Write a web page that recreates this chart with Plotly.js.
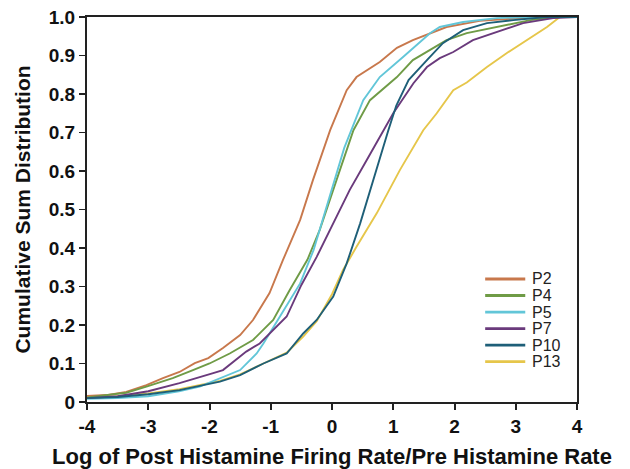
<!DOCTYPE html>
<html>
<head>
<meta charset="utf-8">
<script src="https://cdn.plot.ly/plotly-3.0.1.min.js"></script>
<style>html,body{margin:0;padding:0;background:#fff;}#chart{width:630px;height:469px;}</style>
</head>
<body>
<div id="chart"></div>
<script>
// Series names
const seriesNames = ["P2", "P4", "P5", "P7", "P10", "P13"];

// Values (x = log ratio, y = cumulative fraction)
const p2X = [-4, -3.68, -3.36, -3.03, -2.76, -2.49, -2.24, -2.02, -1.78, -1.5, -1.29, -1.02, -0.8, -0.52, -0.31, -0.03, 0.24, 0.4, 0.78, 1.06, 1.32, 1.65, 1.87, 2.41, 3.0, 3.7, 4];
const p2Y = [0.016, 0.018, 0.026, 0.044, 0.062, 0.078, 0.101, 0.114, 0.14, 0.174, 0.213, 0.283, 0.369, 0.473, 0.577, 0.706, 0.81, 0.844, 0.883, 0.92, 0.94, 0.96, 0.974, 0.99, 0.996, 1.0, 1.0];

const p4X = [-4, -3.36, -3.03, -2.6, -2.27, -2.0, -1.67, -1.29, -0.96, -0.69, -0.4, -0.2, 0.075, 0.35, 0.62, 1.06, 1.32, 1.6, 1.87, 2.2, 2.69, 3.24, 3.7, 4];
const p4Y = [0.012, 0.024, 0.04, 0.062, 0.083, 0.1, 0.126, 0.161, 0.213, 0.291, 0.37, 0.447, 0.577, 0.706, 0.784, 0.844, 0.888, 0.914, 0.94, 0.958, 0.974, 0.992, 1.0, 1.0];

const p5X = [-4, -3.5, -3.0, -2.5, -2.16, -1.83, -1.5, -1.23, -1.12, -0.85, -0.52, -0.3, -0.05, 0.2, 0.51, 0.78, 1.16, 1.6, 1.76, 2.14, 2.69, 3.2, 3.7, 4];
const p5Y = [0.008, 0.01, 0.015, 0.028, 0.04, 0.062, 0.083, 0.126, 0.152, 0.222, 0.308, 0.395, 0.53, 0.66, 0.784, 0.844, 0.896, 0.958, 0.974, 0.987, 0.997, 1.0, 1.0, 1.0];

const p7X = [-4, -3.5, -3.0, -2.49, -1.94, -1.78, -1.4, -1.18, -0.74, -0.5, -0.25, 0.02, 0.29, 0.57, 0.84, 1.0, 1.33, 1.55, 1.76, 1.98, 2.3, 2.69, 3.12, 3.61, 4];
const p7Y = [0.01, 0.015, 0.028, 0.049, 0.075, 0.083, 0.131, 0.152, 0.222, 0.304, 0.377, 0.464, 0.551, 0.629, 0.706, 0.75, 0.828, 0.87, 0.893, 0.909, 0.94, 0.961, 0.984, 0.997, 1.0];

const p10X = [-4, -3.5, -3.0, -2.49, -1.83, -1.5, -1.12, -0.74, -0.47, -0.25, 0.02, 0.24, 0.46, 0.67, 0.92, 1.05, 1.25, 1.55, 1.81, 2.14, 2.53, 2.96, 3.5, 4];
const p10Y = [0.01, 0.013, 0.02, 0.031, 0.053, 0.07, 0.1, 0.126, 0.178, 0.213, 0.274, 0.36, 0.464, 0.577, 0.706, 0.77, 0.836, 0.888, 0.932, 0.966, 0.984, 0.992, 1.0, 1.0];

const p13X = [-4, -3.5, -3.0, -2.49, -1.83, -1.5, -1.12, -0.74, -0.47, -0.25, 0.0, 0.18, 0.4, 0.73, 1.11, 1.49, 1.71, 1.98, 2.2, 2.53, 2.85, 3.18, 3.51, 3.72, 4];
const p13Y = [0.012, 0.015, 0.022, 0.033, 0.055, 0.072, 0.1, 0.128, 0.17, 0.21, 0.28, 0.343, 0.403, 0.49, 0.603, 0.706, 0.75, 0.81, 0.83, 0.87, 0.906, 0.94, 0.974, 1.0, 1.0];

const xTickVals = [-4, -3, -2, -1, 0, 1, 2, 3, 4];
const xTickText = ["-4", "-3", "-2", "-1", "0", "1", "2", "3", "4"];
const yTickVals = [0, 0.1, 0.2, 0.3, 0.4, 0.5, 0.6, 0.7, 0.8, 0.9, 1.0];
const yTickText = ["0", "0.1", "0.2", "0.3", "0.4", "0.5", "0.6", "0.7", "0.8", "0.9", "1.0"];

const colors = ["#c8784c", "#6f9b46", "#62c6d8", "#6a3a7c", "#1e5f78", "#e6c64a"];
const xs = [p2X, p4X, p5X, p7X, p10X, p13X];
const ys = [p2Y, p4Y, p5Y, p7Y, p10Y, p13Y];

// draw order: back to front so that P10 sits on top of P13 in the lower part
const order = [5, 0, 1, 2, 3, 4];
const traces = order.map(i => ({
  type: "scatter",
  mode: "lines",
  name: seriesNames[i],
  x: xs[i],
  y: ys[i],
  line: {color: colors[i], width: 1.9},
  showlegend: false
}));

// Compact legend (tighter row spacing than Plotly's built-in legend allows)
const legX0 = 0.8126, legX1 = 0.8944, legTextX = 0.905, legTop = 0.3195, legStep = 0.0429;
const legendShapes = seriesNames.map((n, i) => ({
  type: "line", xref: "paper", yref: "paper",
  x0: legX0, x1: legX1, y0: legTop - i * legStep, y1: legTop - i * legStep,
  line: {color: colors[i], width: 2.8}
}));
const legendLabels = seriesNames.map((n, i) => ({
  xref: "paper", yref: "paper", x: legTextX, y: legTop - i * legStep,
  xanchor: "left", yanchor: "middle", showarrow: false, text: n,
  font: {family: "Liberation Sans Narrow, Arial Narrow, sans-serif", size: 16, color: "#222"}
}));

const boldFont = "Liberation Sans, Arial, sans-serif";

const layout = {
  width: 630,
  height: 469,
  paper_bgcolor: "#ffffff",
  plot_bgcolor: "#ffffff",
  margin: {l: 87, r: 53, t: 17, b: 67},
  showlegend: false,
  shapes: legendShapes,
  annotations: legendLabels,
  xaxis: {
    range: [-4, 4],
    tickvals: xTickVals,
    ticktext: xTickText,
    ticks: "outside",
    ticklen: 6,
    tickwidth: 2,
    tickcolor: "#222",
    showline: true,
    linewidth: 2,
    linecolor: "#222",
    mirror: true,
    showgrid: false,
    zeroline: false,
    tickfont: {family: boldFont, size: 19, color: "#111", weight: "bold"},
    title: {text: "<b>Log of Post Histamine Firing Rate/Pre Histamine Rate</b>", font: {family: boldFont, size: 22, color: "#111"}, standoff: 13}
  },
  yaxis: {
    range: [0, 1],
    tickvals: yTickVals,
    ticktext: yTickText,
    ticks: "outside",
    ticklen: 6,
    tickwidth: 1.5,
    tickcolor: "#222",
    showline: true,
    linewidth: 2,
    linecolor: "#222",
    mirror: true,
    showgrid: false,
    zeroline: false,
    tickfont: {family: boldFont, size: 19, color: "#111", weight: "bold"},
    title: {text: "<b>Cumulative Sum Distribution</b>", font: {family: boldFont, size: 21, color: "#111"}, standoff: 12}
  }
};

Plotly.newPlot("chart", traces, layout, {displayModeBar: false, staticPlot: true});
</script>
</body>
</html>
